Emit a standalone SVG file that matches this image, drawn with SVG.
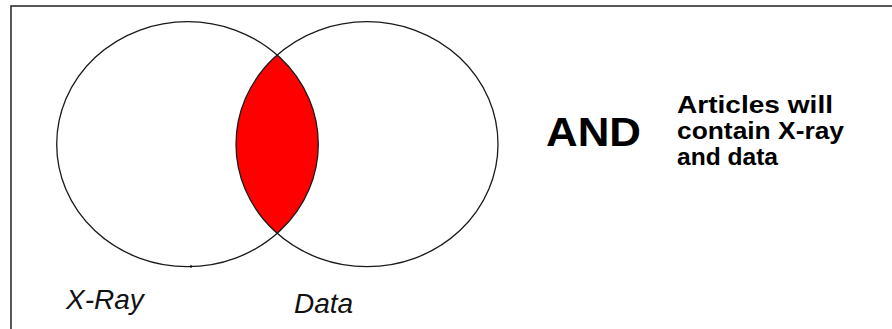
<svg xmlns="http://www.w3.org/2000/svg" width="892" height="329" viewBox="0 0 892 329">
  <style>
    .ring { fill: none; stroke: #1a1a1a; stroke-width: 1.3; }
    .frame { fill: none; stroke: #222; stroke-width: 1.5; }
    .lbl { font-family: "Liberation Sans", Arial, sans-serif; font-style: italic; font-size: 28px; fill: #111; }
    .op { font-family: "Liberation Sans", Arial, sans-serif; font-weight: bold; font-size: 40px; fill: #000; }
    .desc { font-family: "Liberation Sans", Arial, sans-serif; font-weight: bold; font-size: 23px; fill: #000; }
  </style>
  <defs>
    <clipPath id="clipLeft">
      <ellipse cx="187.5" cy="144.2" rx="130.8" ry="122.5"/>
    </clipPath>
  </defs>
  <rect x="0" y="0" width="892" height="329" fill="#ffffff"/>
  <polyline class="frame" points="11,329 11,6 892,6"/>

  <g id="intersection">
    <ellipse cx="367" cy="144.2" rx="131" ry="122.5" fill="#ff0000" clip-path="url(#clipLeft)"/>
  </g>
  <g id="xray-set">
    <ellipse class="ring" cx="187.5" cy="144.2" rx="130.8" ry="122.5"/>
    <circle cx="191" cy="266.5" r="1.2" fill="#111"/>
    <text class="lbl" x="66" y="309">X-Ray</text>
  </g>
  <g id="data-set">
    <ellipse class="ring" cx="367" cy="144.2" rx="131" ry="122.5"/>
    <text class="lbl" x="294" y="313">Data</text>
  </g>
  <g id="connectors"/>
  <g id="operator">
    <text class="op" x="546" y="146" textLength="95" lengthAdjust="spacingAndGlyphs">AND</text>
  </g>
  <g id="description">
    <text class="desc" x="677" y="113" textLength="156" lengthAdjust="spacingAndGlyphs">Articles will</text>
    <text class="desc" x="677" y="139" textLength="167" lengthAdjust="spacingAndGlyphs">contain X-ray</text>
    <text class="desc" x="677" y="165" textLength="101" lengthAdjust="spacingAndGlyphs">and data</text>
  </g>
</svg>
